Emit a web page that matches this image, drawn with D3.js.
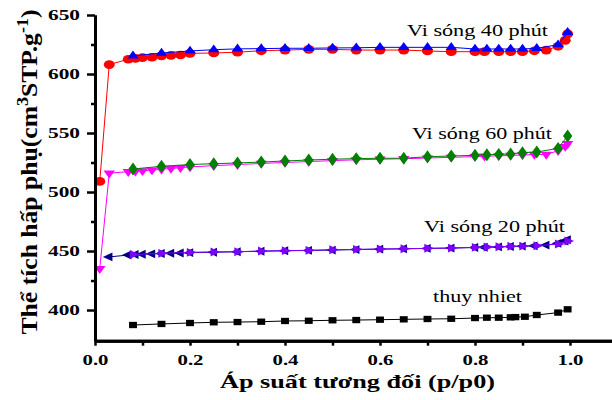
<!DOCTYPE html>
<html>
<head>
<meta charset="utf-8">
<script src="https://cdn.jsdelivr.net/npm/d3@7"></script>
<style>
  body { margin: 0; background: #fff; }
  text { font-family: "Liberation Serif", "Times New Roman", serif; }
</style>
</head>
<body>
<div id="chart"></div>
<script>
// relative pressure grids
const pAds = [0.01, 0.03, 0.07, 0.085, 0.1, 0.12, 0.14, 0.16, 0.18, 0.2, 0.25, 0.3, 0.35, 0.4, 0.45, 0.5, 0.55, 0.6, 0.65, 0.7, 0.75, 0.8, 0.82, 0.85, 0.875, 0.9, 0.925, 0.95, 0.975, 0.99, 0.995];
const pDes = [0.08, 0.14, 0.2, 0.25, 0.3, 0.35, 0.4, 0.45, 0.5, 0.55, 0.6, 0.65, 0.7, 0.75, 0.8, 0.825, 0.85, 0.875, 0.9, 0.93, 0.975, 0.995];
const pNavy = pAds.slice(1);
const pThuy = [0.08, 0.14, 0.2, 0.25, 0.3, 0.35, 0.4, 0.45, 0.5, 0.55, 0.6, 0.65, 0.7, 0.75, 0.8, 0.825, 0.85, 0.875, 0.885, 0.905, 0.93, 0.975, 0.995];

// adsorbed volume
const red40 = [509, 608, 612.5, 613.3, 613.8, 614.2, 615.3, 615.8, 616.1, 617.5, 617.8, 618.5, 619.7, 620.3, 620.9, 620.9, 620.3, 620.3, 620.3, 619.5, 618.9, 618.9, 618.9, 618.9, 618.9, 618.9, 619.7, 620.3, 623.5, 628.5, 634];
const blue40 = [615.4, 617.8, 619.5, 620.6, 621.3, 621.5, 621.8, 621.8, 622.1, 622.2, 622.6, 622.6, 622.6, 622.6, 621.2, 621.2, 621.2, 621.2, 621.2, 621.8, 624.8, 635.3];
const mag60 = [435, 516, 517.2, 517.6, 518, 518.6, 519.3, 520, 520.6, 521.3, 522.3, 523.3, 524.2, 525, 525.8, 526.6, 527.3, 527.8, 528.2, 528.8, 529.4, 530, 530.3, 530.7, 531, 531.4, 531.8, 531.8, 535, 538.5, 541];
const green60 = [519.5, 521.8, 523.3, 524, 524.6, 525.4, 526.3, 527.1, 527.8, 528.3, 528.6, 528.6, 529.9, 530.5, 531.1, 531.6, 531.9, 532.2, 533.3, 533.9, 537, 547.5];
const navy20 = [445, 446.6, 447, 447.3, 447.6, 447.9, 448.1, 448.3, 448.6, 449, 449.4, 449.8, 450.2, 450.5, 450.8, 451.2, 451.6, 451.9, 452.2, 452.5, 453, 453.2, 453.5, 453.8, 454.1, 454.4, 455, 456.5, 458.5, 459.5];
const purple20 = [447, 448, 448.9, 449.2, 449.4, 450, 450.3, 450.6, 451.1, 451.4, 451.7, 451.9, 452.3, 452.5, 453.1, 453.4, 453.6, 454, 454.2, 454.5, 455.9, 458.5];
const thuy = [387.3, 388.2, 389, 389.6, 389.8, 390.1, 390.7, 390.9, 391.3, 391.5, 391.8, 392.1, 392.4, 392.6, 393.2, 393.5, 393.5, 393.8, 394, 394.3, 395.8, 397.8, 400.6];

const xTicks = [0, 0.2, 0.4, 0.6, 0.8, 1.0];
const xMinor = [0.1, 0.3, 0.5, 0.7, 0.9];
const yTicks = [400, 450, 500, 550, 600, 650];
const yMinor = [425, 475, 525, 575, 625];

const labels = [
  {text: "Vi sóng 40 phút", x: 407, y: 36, w: 141},
  {text: "Vi sóng 60 phút", x: 412, y: 139, w: 140},
  {text: "Vi sóng 20 phút", x: 424, y: 232, w: 141},
  {text: "thuy nhiet", x: 433, y: 302, w: 89}
];

const W = 612, H = 400;
const svg = d3.select("#chart").append("svg").attr("width", W).attr("height", H);

const x = d3.scaleLinear().domain([0, 1.09]).range([95, 612.75]);
const y = d3.scaleLinear().domain([374, 650]).range([340.7, 15]);

// series: lines first, markers after; order decides overlap
const series = [
  {p: pAds, v: red40, color: "#ff0000", sym: d3.symbolCircle, size: 60, rot: 0},
  {p: pDes, v: blue40, color: "#0000ff", sym: d3.symbolTriangle, size: 36, rot: 0},
  {p: pAds, v: mag60, color: "#ff00ff", sym: d3.symbolTriangle, size: 36, rot: 180},
  {p: pDes, v: green60, color: "#008000", sym: d3.symbolDiamond, size: 48, rot: 0},
  {p: pNavy, v: navy20, color: "#000080", sym: d3.symbolTriangle, size: 34, rot: -90},
  {p: pDes, v: purple20, color: "#8000ff", sym: d3.symbolTriangle, size: 34, rot: 90},
  {p: pThuy, v: thuy, color: "#000000", sym: d3.symbolSquare, size: 40, rot: 0}
];

const line = d3.line().x(d => x(d[0])).y(d => y(d[1]));

series.forEach(s => {
  const pts = s.p.map((p, i) => [p, s.v[i]]);
  svg.append("path")
    .datum(pts)
    .attr("d", line)
    .attr("fill", "none")
    .attr("stroke", s.color)
    .attr("stroke-width", 1);
  svg.append("g").selectAll("path")
    .data(pts)
    .enter()
    .append("path")
    .attr("d", d3.symbol().type(s.sym).size(s.size))
    .attr("transform", d => `translate(${x(d[0])},${y(d[1])}) scale(1.25,1) rotate(${s.rot})`)
    .attr("fill", s.color);
});

// axes
const yAxis = svg.append("g")
  .attr("transform", `translate(${x(0)},0)`)
  .call(d3.axisLeft(y).tickValues(yTicks).tickSize(8).tickSizeOuter(0).tickPadding(7));
svg.append("g")
  .attr("transform", `translate(${x(0)},0)`)
  .call(d3.axisLeft(y).tickValues(yMinor).tickSize(4).tickSizeOuter(0).tickFormat(""));

const xAxis = svg.append("g")
  .attr("transform", `translate(0,${y(374)})`)
  .call(d3.axisBottom(x).tickValues(xTicks).tickSize(5).tickSizeOuter(0).tickPadding(9).tickFormat(d3.format(".1f")));
svg.append("g")
  .attr("transform", `translate(0,${y(374)})`)
  .call(d3.axisBottom(x).tickValues(xMinor).tickSize(5).tickSizeOuter(0).tickFormat(""));

svg.selectAll(".domain").attr("stroke", "#000").attr("stroke-width", 3);
svg.selectAll(".tick line").attr("stroke", "#000").attr("stroke-width", 2.5);
svg.selectAll(".tick text")
  .attr("font-family", "Liberation Serif, Times New Roman, serif")
  .attr("font-size", 15)
  .attr("font-weight", "bold")
  .attr("fill", "#000")
  .attr("lengthAdjust", "spacingAndGlyphs");
yAxis.selectAll(".tick text").attr("textLength", 32);
xAxis.selectAll(".tick text").attr("textLength", 26);

// series labels
svg.append("g").selectAll("text")
  .data(labels)
  .enter()
  .append("text")
  .attr("x", d => d.x)
  .attr("y", d => d.y)
  .attr("font-size", 17)
  .attr("textLength", d => d.w)
  .attr("lengthAdjust", "spacingAndGlyphs")
  .text(d => d.text);

// axis titles
svg.append("text")
  .attr("x", 220)
  .attr("y", 388)
  .attr("font-size", 19)
  .attr("font-weight", "bold")
  .attr("textLength", 275)
  .attr("lengthAdjust", "spacingAndGlyphs")
  .text("Áp suất tương đối (p/p0)");

const yt = svg.append("text")
  .attr("transform", "translate(37,172) scale(1.35,1) rotate(-90)")
  .attr("text-anchor", "middle")
  .attr("font-size", 17)
  .attr("font-weight", "bold")
  .attr("textLength", 325)
  .attr("lengthAdjust", "spacingAndGlyphs");
yt.append("tspan").text("Thể tích hấp phụ(cm");
yt.append("tspan").attr("baseline-shift", "super").attr("font-size", 12).text("3");
yt.append("tspan").text("STP.g");
yt.append("tspan").attr("baseline-shift", "super").attr("font-size", 12).text("-1");
yt.append("tspan").text(")");
</script>
</body>
</html>
